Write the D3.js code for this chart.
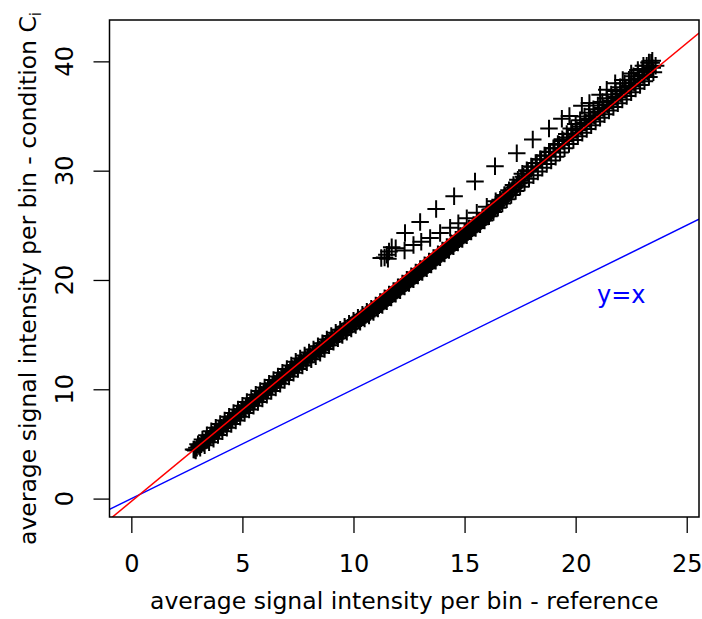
<!DOCTYPE html>
<html>
<head>
<meta charset="utf-8">
<title>Signal intensity per bin</title>
<script src="https://d3js.org/d3.v7.min.js"></script>
<style>
    body { margin: 0; background: #fff; }
    svg { display: block; font-family: 'DejaVu Sans', sans-serif; }
    .tick line { stroke: #000; stroke-width: 1.3px; }
</style>
</head>
<body>
<svg width="702" height="619"></svg>
<script>
// DATA ========================================================
const xTicks = [0, 5, 10, 15, 20, 25];
const yTicks = [0, 10, 20, 30, 40];
const xLimits = [0, 24.57];
const yLimits = [0, 42.1];

// fitted line (red) and identity line (blue)
const fitLine = {intercept: -0.26, slope: 1.677};
const identityLine = {intercept: 0, slope: 1};

// main band of bins, outer rows: [reference, condition]
const bandPoints = [
    [2.8,4.48],[2.9,4.40],[3.0,4.97],[3.1,4.64],[3.2,5.41],[3.3,4.87],[3.4,5.79],[3.5,5.16],
    [3.6,6.15],[3.7,5.48],[3.8,6.48],[3.9,5.81],[4.0,6.82],[4.1,6.15],[4.2,7.15],[4.3,6.48],
    [4.4,7.49],[4.5,6.82],[4.6,7.82],[4.7,7.15],[4.8,8.16],[4.9,7.49],[5.0,8.50],[5.1,7.82],
    [5.2,8.83],[5.3,8.16],[5.4,9.17],[5.5,8.49],[5.6,9.50],[5.7,8.83],[5.8,9.84],[5.9,9.16],
    [6.0,10.17],[6.1,9.50],[6.2,10.51],[6.3,9.84],[6.4,10.84],[6.5,10.17],[6.6,11.18],[6.7,10.51],
    [6.8,11.51],[6.9,10.84],[7.0,11.85],[7.1,11.18],[7.2,12.18],[7.3,11.51],[7.4,12.52],[7.5,11.85],
    [7.6,12.82],[7.7,12.18],[7.8,13.09],[7.9,12.47],[8.0,13.37],[8.1,12.74],[8.2,13.64],[8.3,13.03],
    [8.4,13.93],[8.5,13.35],[8.6,14.21],[8.7,13.68],[8.8,14.55],[8.9,14.02],[9.0,14.88],[9.1,14.35],
    [9.2,15.17],[9.3,14.66],[9.4,15.44],[9.5,14.96],[9.6,15.72],[9.7,15.27],[9.8,16.00],[9.9,15.57],
    [10.0,16.27],[10.1,15.88],[10.2,16.55],[10.3,16.17],[10.4,16.82],[10.5,16.47],[10.6,17.10],[10.7,16.76],
    [10.8,17.37],[10.9,17.07],[11.0,17.66],[11.1,17.39],[11.2,17.99],[11.3,17.72],[11.4,18.33],[11.5,18.06],
    [11.6,18.66],[11.7,18.39],[11.8,19.00],[11.9,18.73],[12.0,19.33],[12.1,19.06],[12.2,19.67],[12.3,19.40],
    [12.4,20.01],[12.5,19.73],[12.6,20.34],[12.7,20.07],[12.8,20.68],[12.9,20.40],[13.0,21.01],[13.1,20.74],
    [13.2,21.35],[13.3,21.07],[13.4,21.68],[13.5,21.41],[13.6,22.02],[13.7,21.75],[13.8,22.35],[13.9,22.08],
    [14.0,22.69],[14.1,22.42],[14.2,23.02],[14.3,22.75],[14.4,23.36],[14.5,23.09],[14.6,23.69],[14.7,23.42],
    [14.8,24.03],[14.9,23.76],[15.0,24.37],[15.1,24.09],[15.2,24.70],[15.3,24.43],[15.4,25.04],[15.5,24.76],
    [15.6,25.37],[15.7,25.10],[15.8,25.71],[15.9,25.43],[16.0,26.04],[16.1,25.84],[16.2,26.46],[16.3,26.23],
    [16.4,26.89],[16.5,26.61],[16.6,27.33],[16.7,27.00],[16.8,27.76],[16.9,27.38],[17.0,28.20],[17.1,27.77],
    [17.2,28.68],[17.3,28.15],[17.4,29.17],[17.5,28.54],[17.6,29.71],[17.7,28.92],[17.8,30.04],[17.9,29.26],
    [18.0,30.38],[18.1,29.59],[18.2,30.71],[18.3,29.93],[18.4,31.05],[18.5,30.27],[18.6,31.38],[18.7,30.60],
    [18.8,31.72],[18.9,30.94],[19.0,32.05],[19.1,31.27],[19.2,32.44],[19.3,31.66],[19.4,32.87],[19.5,32.04],
    [19.6,33.36],[19.7,32.43],[19.8,33.85],[19.9,32.81],[20.0,34.28],[20.1,33.15],[20.2,34.62],[20.3,33.48],
    [20.4,34.95],[20.5,33.82],[20.6,35.29],[20.7,34.15],[20.8,35.62],[20.9,34.49],[21.0,35.96],[21.1,34.83],
    [21.2,36.29],[21.3,35.16],[21.4,36.63],[21.5,35.50],[21.6,36.96],[21.7,35.83],[21.8,37.30],[21.9,36.17],
    [22.0,37.63],[22.1,36.50],[22.2,37.97],[22.3,36.84],[22.4,38.31],[22.5,37.17],[22.6,38.64],[22.7,37.51],
    [22.8,38.98],[22.9,37.84],[23.0,39.31],[23.1,38.18],[23.2,39.60],[23.3,38.56],[23.4,39.88],[23.5,39.00],
    [23.6,39.60]
];

// main band, middle row
const bandMiddle = [
    [2.85,4.47],[2.95,4.64],[3.05,4.80],[3.15,4.97],[3.25,5.14],[3.35,5.31],[3.45,5.48],[3.55,5.64],
    [3.65,5.81],[3.75,5.98],[3.85,6.15],[3.95,6.31],[4.05,6.48],[4.15,6.65],[4.25,6.82],[4.35,6.99],
    [4.45,7.15],[4.55,7.32],[4.65,7.49],[4.75,7.66],[4.85,7.82],[4.95,7.99],[5.05,8.16],[5.15,8.33],
    [5.25,8.49],[5.35,8.66],[5.45,8.83],[5.55,9.00],[5.65,9.17],[5.75,9.33],[5.85,9.50],[5.95,9.67],
    [6.05,9.84],[6.15,10.00],[6.25,10.17],[6.35,10.34],[6.45,10.51],[6.55,10.67],[6.65,10.84],[6.75,11.01],
    [6.85,11.18],[6.95,11.35],[7.05,11.51],[7.15,11.68],[7.25,11.85],[7.35,12.02],[7.45,12.18],[7.55,12.33],
    [7.65,12.47],[7.75,12.61],[7.85,12.76],[7.95,12.90],[8.05,13.04],[8.15,13.18],[8.25,13.33],[8.35,13.47],
    [8.45,13.61],[8.55,13.78],[8.65,13.95],[8.75,14.11],[8.85,14.28],[8.95,14.45],[9.05,14.60],[9.15,14.74],
    [9.25,14.89],[9.35,15.03],[9.45,15.18],[9.55,15.33],[9.65,15.47],[9.75,15.62],[9.85,15.77],[9.95,15.92],
    [10.05,16.05],[10.15,16.20],[10.25,16.35],[10.35,16.50],[10.45,16.65],[10.55,16.79],[10.65,16.94],[10.75,17.08],
    [10.85,17.23],[10.95,17.37],[11.05,17.52],[11.15,17.69],[11.25,17.86],[11.35,18.02],[11.45,18.19],[11.55,18.36],
    [11.65,18.53],[11.75,18.69],[11.85,18.86],[11.95,19.03],[12.05,19.20],[12.15,19.37],[12.25,19.53],[12.35,19.70],
    [12.45,19.87],[12.55,20.04],[12.65,20.20],[12.75,20.37],[12.85,20.54],[12.95,20.71],[13.05,20.88],[13.15,21.04],
    [13.25,21.21],[13.35,21.38],[13.45,21.55],[13.55,21.71],[13.65,21.88],[13.75,22.05],[13.85,22.22],[13.95,22.38],
    [14.05,22.55],[14.15,22.72],[14.25,22.89],[14.35,23.06],[14.45,23.22],[14.55,23.39],[14.65,23.56],[14.75,23.73],
    [14.85,23.89],[14.95,24.06],[15.05,24.23],[15.15,24.40],[15.25,24.56],[15.35,24.73],[15.45,24.90],[15.55,25.07],
    [15.65,25.24],[15.75,25.40],[15.85,25.57],[15.95,25.74],[16.05,25.96],[16.15,26.16],[16.25,26.37],[16.35,26.58],
    [16.45,26.79],[16.55,26.99],[16.65,27.20],[16.75,27.41],[16.85,27.62],[16.95,27.83],[17.05,28.03],[17.15,28.24],
    [17.25,28.45],[17.35,28.66],[17.45,28.86],[17.55,29.07],[17.65,29.44],[17.85,29.92],[18.05,30.36],[18.25,30.70],
    [18.45,31.03],[18.65,31.37],[18.85,31.70],[19.05,32.04],[19.25,32.37],[19.45,32.71],[19.65,33.04],[19.85,33.38],
    [20.05,33.71],[20.25,34.05],[20.45,34.39],[20.65,34.72],[20.85,35.06],[21.05,35.39],[21.25,35.73],[21.45,36.06],
    [21.65,36.40],[21.85,36.73],[22.05,37.07],[22.25,37.40],[22.45,37.74],[22.65,38.07],[22.85,38.41],[23.05,38.75],
    [23.25,39.08],[23.45,39.42]
];

// sparse upper branch
const upperBranch = [
    [11.25,22.0],[11.4,22.05],[11.55,21.95],[11.5,22.3],[11.72,23.0],[12.32,24.3],[13.0,25.3],
    [13.72,26.5],[14.53,27.65],[15.47,29.0],[16.37,30.4],[17.35,31.6],[18.07,32.85],[18.8,33.85],
    [19.38,34.75],[19.72,35.0],[20.28,35.95],[20.62,36.2],[21.1,36.95],[21.4,37.4],[21.78,38.0],
    [22.12,38.3],[22.5,38.9],[22.8,39.2],[23.05,39.6],[23.3,39.9],[23.45,40.05]
];

// inner branch between the upper branch and the band
const innerBranch = [
    [11.6,22.6],[11.9,22.9],[12.3,22.7],[12.7,23.2],[13.05,23.5],[13.45,23.85],[13.9,24.3],
    [14.35,24.77],[14.72,25.2],[15.1,25.65],[15.55,26.15],[16.0,26.7],[16.4,27.2],[16.8,27.75]
];

const identityLabel = {x: 22.05, y: 17.9, text: "y=x"};

// LAYOUT ======================================================
const svg = d3.select("svg");
const plot = {left: 109.5, right: 699, top: 20, bottom: 517};

// R style 4% padding of the axis ranges
const padX = (xLimits[1] - xLimits[0]) * 0.04;
const padY = (yLimits[1] - yLimits[0]) * 0.04;
const x = d3.scaleLinear().domain([xLimits[0] - padX, xLimits[1] + padX]).range([plot.left, plot.right]);
const y = d3.scaleLinear().domain([yLimits[0] - padY, yLimits[1] + padY]).range([plot.bottom, plot.top]);

svg.append("defs").append("clipPath").attr("id", "plot-clip")
    .append("rect")
    .attr("x", plot.left).attr("y", plot.top)
    .attr("width", plot.right - plot.left).attr("height", plot.bottom - plot.top);

// POINTS ======================================================
const plus = "M-8.75,0H8.75M0,-8.75V8.75";
const allPoints = bandPoints.concat(bandMiddle, innerBranch, upperBranch);

svg.append("g")
    .attr("clip-path", "url(#plot-clip)")
    .selectAll("path")
    .data(allPoints)
    .join("path")
    .attr("d", plus)
    .attr("transform", d => `translate(${x(d[0])},${y(d[1])})`)
    .attr("fill", "none")
    .attr("stroke", "#000")
    .attr("stroke-width", 2);

// LINES =======================================================
const lines = svg.append("g").attr("clip-path", "url(#plot-clip)");
[[identityLine, "#0000ff"], [fitLine, "#ff0000"]].forEach(([l, color]) => {
    const [x0, x1] = x.domain();
    lines.append("line")
        .attr("x1", x(x0)).attr("y1", y(l.intercept + l.slope * x0))
        .attr("x2", x(x1)).attr("y2", y(l.intercept + l.slope * x1))
        .attr("stroke", color)
        .attr("stroke-width", 1.5);
});

svg.append("text")
    .attr("x", x(identityLabel.x))
    .attr("y", y(identityLabel.y))
    .attr("text-anchor", "middle")
    .attr("font-size", 24)
    .attr("fill", "#0000ff")
    .text(identityLabel.text);

// AXES ========================================================
const xAxis = svg.append("g")
    .attr("transform", `translate(0,${plot.bottom})`)
    .call(d3.axisBottom(x).tickValues(xTicks).tickSize(16).tickSizeOuter(0).tickPadding(22));
xAxis.select(".domain").remove();
xAxis.selectAll("text")
    .attr("font-size", 24)
    .attr("font-family", "DejaVu Sans")
    .attr("fill", "#000");

const yAxis = svg.append("g")
    .attr("transform", `translate(${plot.left},0)`)
    .call(d3.axisLeft(y).tickValues(yTicks).tickSize(16).tickSizeOuter(0));
yAxis.select(".domain").remove();
yAxis.selectAll("text").remove();

svg.append("g")
    .selectAll("text")
    .data(yTicks)
    .join("text")
    .attr("transform", d => `translate(73,${y(d)}) rotate(-90)`)
    .attr("text-anchor", "middle")
    .attr("font-size", 24)
    .text(d => d);

// plot frame
svg.append("rect")
    .attr("x", plot.left).attr("y", plot.top)
    .attr("width", plot.right - plot.left).attr("height", plot.bottom - plot.top)
    .attr("fill", "none")
    .attr("stroke", "#000")
    .attr("stroke-width", 1.5);

// axis titles
svg.append("text")
    .attr("x", (plot.left + plot.right) / 2)
    .attr("y", 609)
    .attr("text-anchor", "middle")
    .attr("font-size", 23.5)
    .text("average signal intensity per bin - reference");

const yTitle = svg.append("text")
    .attr("transform", "translate(36,545) rotate(-90)")
    .attr("text-anchor", "start")
    .attr("font-size", 23.5);
yTitle.append("tspan").text("average signal intensity per bin - condition C");
yTitle.append("tspan").attr("font-size", 15).attr("dy", 5).text("i");
</script>
</body>
</html>
